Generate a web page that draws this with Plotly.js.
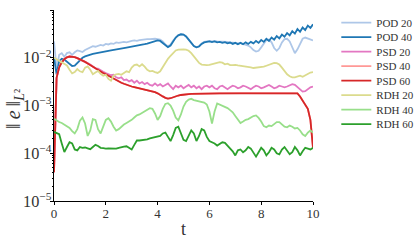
<!DOCTYPE html>
<html>
<head>
<meta charset="utf-8">
<script src="https://cdn.plot.ly/plotly-3.0.1.min.js"></script>
<style>
  html, body { margin: 0; padding: 0; background: #fff; }
  #chart { width: 416px; height: 243px; }
</style>
</head>
<body>
<div id="chart"></div>
<script>
// time axis (shared by all series)
const t = [0,0.1,0.2,0.3,0.4,0.5,0.6,0.7,0.8,0.9,
  1,1.1,1.2,1.3,1.4,1.5,1.6,1.7,1.8,1.9,
  2,2.1,2.2,2.3,2.4,2.5,2.6,2.7,2.8,2.9,
  3,3.1,3.2,3.3,3.4,3.5,3.6,3.7,3.8,3.9,
  4,4.1,4.2,4.3,4.4,4.5,4.6,4.7,4.8,4.9,
  5,5.1,5.2,5.3,5.4,5.5,5.6,5.7,5.8,5.9,
  6,6.1,6.2,6.3,6.4,6.5,6.6,6.7,6.8,6.9,
  7,7.1,7.2,7.3,7.4,7.5,7.6,7.7,7.8,7.9,
  8,8.1,8.2,8.3,8.4,8.5,8.6,8.7,8.8,8.9,
  9,9.1,9.2,9.3,9.4,9.5,9.6,9.7,9.8,9.9,10];

const pod20 = [2.2e-2,6e-3,1.15e-2,1.25e-2,1.05e-2,1.25e-2,1.3e-2,1.15e-2,1.3e-2,1.42e-2,
  1.38e-2,1.32e-2,1.45e-2,1.55e-2,1.6e-2,1.75e-2,1.7e-2,1.8e-2,1.85e-2,1.8e-2,
  1.95e-2,1.9e-2,2.0e-2,1.95e-2,2.1e-2,2.05e-2,2.1e-2,2.15e-2,2.1e-2,2.2e-2,
  2.25e-2,2.3e-2,2.25e-2,2.35e-2,2.4e-2,2.4e-2,2.45e-2,2.45e-2,2.5e-2,2.5e-2,
  2.45e-2,2.4e-2,2.2e-2,1.9e-2,1.75e-2,1.9e-2,2.3e-2,2.7e-2,3.0e-2,3.1e-2,
  3.05e-2,2.8e-2,2.4e-2,2.0e-2,1.75e-2,1.65e-2,1.75e-2,2.0e-2,2.15e-2,2.2e-2,
  2.25e-2,2.2e-2,2.25e-2,2.2e-2,2.2e-2,2.15e-2,2.2e-2,2.15e-2,2.1e-2,2.1e-2,
  2.05e-2,2.0e-2,2.05e-2,1.95e-2,1.9e-2,1.8e-2,1.65e-2,1.45e-2,1.35e-2,1.4e-2,
  1.65e-2,2.0e-2,2.35e-2,2.4e-2,2.1e-2,1.6e-2,1.4e-2,1.6e-2,2.1e-2,2.45e-2,
  2.5e-2,2.2e-2,1.6e-2,1.25e-2,1.5e-2,2.0e-2,2.5e-2,2.65e-2,2.55e-2,2.4e-2,2.3e-2];

const pod40 = [1.0e-2,4.5e-3,8.5e-3,9.5e-3,9.2e-3,8.3e-3,7.3e-3,6.7e-3,6.8e-3,7.8e-3,
  9.0e-3,1.0e-2,1.07e-2,1.12e-2,1.17e-2,1.2e-2,1.23e-2,1.27e-2,1.3e-2,1.33e-2,
  1.36e-2,1.4e-2,1.43e-2,1.47e-2,1.5e-2,1.53e-2,1.56e-2,1.6e-2,1.63e-2,1.67e-2,
  1.7e-2,1.74e-2,1.78e-2,1.82e-2,1.87e-2,1.92e-2,1.98e-2,2.05e-2,2.15e-2,2.25e-2,
  2.3e-2,2.25e-2,2.05e-2,1.8e-2,1.67e-2,1.8e-2,2.2e-2,2.65e-2,2.95e-2,3.1e-2,
  3.05e-2,2.8e-2,2.4e-2,2.0e-2,1.75e-2,1.65e-2,1.72e-2,1.95e-2,2.1e-2,2.15e-2,
  2.2e-2,2.12e-2,2.2e-2,2.1e-2,2.15e-2,2.05e-2,2.12e-2,2.0e-2,2.08e-2,1.95e-2,
  2.05e-2,1.92e-2,2.05e-2,1.92e-2,2.1e-2,1.95e-2,2.15e-2,2.0e-2,2.25e-2,2.05e-2,
  2.35e-2,2.15e-2,2.5e-2,2.25e-2,2.65e-2,2.4e-2,2.85e-2,2.55e-2,3.05e-2,2.75e-2,
  3.3e-2,2.95e-2,3.6e-2,3.2e-2,4.0e-2,3.5e-2,4.3e-2,3.8e-2,4.7e-2,4.2e-2,5.0e-2];

const psd20 = [4e-5,3.8e-3,6.3e-3,8.0e-3,9.3e-3,1.02e-2,1.06e-2,1.06e-2,1.03e-2,9.8e-3,
  9.3e-3,8.8e-3,8.2e-3,7.7e-3,7.2e-3,6.6e-3,6.0e-3,5.9e-3,5.4e-3,5.1e-3,
  4.8e-3,4.5e-3,4.3e-3,4.4e-3,3.9e-3,3.7e-3,3.9e-3,3.4e-3,3.5e-3,3.2e-3,
  3.4e-3,3.0e-3,3.3e-3,2.9e-3,3.1e-3,2.8e-3,3.0e-3,2.7e-3,2.6e-3,2.9e-3,
  2.6e-3,2.8e-3,2.5e-3,2.7e-3,2.9e-3,2.5e-3,2.2e-3,2.6e-3,2.4e-3,2.6e-3,
  2.3e-3,2.5e-3,2.7e-3,2.4e-3,2.6e-3,2.3e-3,2.5e-3,2.2e-3,2.5e-3,2.6e-3,
  2.4e-3,2.6e-3,2.3e-3,2.2e-3,2.5e-3,2.6e-3,2.4e-3,2.2e-3,2.4e-3,2.6e-3,
  2.5e-3,2.3e-3,2.4e-3,2.6e-3,2.5e-3,2.3e-3,2.2e-3,2.4e-3,2.6e-3,2.5e-3,
  2.3e-3,2.4e-3,2.6e-3,2.7e-3,2.5e-3,2.3e-3,2.4e-3,2.6e-3,2.5e-3,2.4e-3,
  2.5e-3,2.7e-3,2.8e-3,2.7e-3,2.4e-3,2.1e-3,1.95e-3,2.0e-3,2.2e-3,2.4e-3,2.5e-3];

const psd40 = [4e-5,3.9e-3,6.4e-3,8.1e-3,9.4e-3,1.03e-2,1.06e-2,1.06e-2,1.03e-2,9.8e-3,
  9.3e-3,8.8e-3,8.2e-3,7.6e-3,7.0e-3,6.5e-3,6.0e-3,5.6e-3,5.2e-3,4.8e-3,
  4.5e-3,4.2e-3,3.9e-3,3.6e-3,3.4e-3,3.2e-3,3.0e-3,2.85e-3,2.7e-3,2.6e-3,
  2.5e-3,2.42e-3,2.35e-3,2.28e-3,2.22e-3,2.16e-3,2.1e-3,2.05e-3,1.98e-3,1.9e-3,
  1.8e-3,1.7e-3,1.55e-3,1.45e-3,1.4e-3,1.42e-3,1.5e-3,1.57e-3,1.62e-3,1.66e-3,
  1.7e-3,1.72e-3,1.73e-3,1.75e-3,1.76e-3,1.77e-3,1.78e-3,1.78e-3,1.79e-3,1.79e-3,
  1.8e-3,1.8e-3,1.8e-3,1.8e-3,1.8e-3,1.8e-3,1.81e-3,1.81e-3,1.81e-3,1.81e-3,
  1.81e-3,1.81e-3,1.81e-3,1.81e-3,1.81e-3,1.81e-3,1.81e-3,1.81e-3,1.81e-3,1.81e-3,
  1.81e-3,1.81e-3,1.82e-3,1.82e-3,1.82e-3,1.82e-3,1.82e-3,1.83e-3,1.83e-3,1.84e-3,
  1.84e-3,1.85e-3,1.85e-3,1.84e-3,1.8e-3,1.55e-3,1.25e-3,1.05e-3,8.5e-4,5e-4,1.3e-4];

const psd60 = [4e-5,3.8e-3,6.3e-3,8.0e-3,9.3e-3,1.02e-2,1.06e-2,1.06e-2,1.03e-2,9.8e-3,
  9.3e-3,8.8e-3,8.2e-3,7.6e-3,7.0e-3,6.5e-3,6.0e-3,5.6e-3,5.2e-3,4.8e-3,
  4.5e-3,4.2e-3,3.9e-3,3.6e-3,3.4e-3,3.2e-3,3.0e-3,2.85e-3,2.7e-3,2.6e-3,
  2.5e-3,2.42e-3,2.35e-3,2.28e-3,2.22e-3,2.16e-3,2.1e-3,2.05e-3,1.98e-3,1.9e-3,
  1.8e-3,1.7e-3,1.55e-3,1.45e-3,1.4e-3,1.42e-3,1.5e-3,1.57e-3,1.62e-3,1.66e-3,
  1.7e-3,1.72e-3,1.73e-3,1.75e-3,1.76e-3,1.77e-3,1.78e-3,1.78e-3,1.79e-3,1.79e-3,
  1.8e-3,1.8e-3,1.8e-3,1.8e-3,1.8e-3,1.8e-3,1.8e-3,1.8e-3,1.8e-3,1.8e-3,
  1.8e-3,1.8e-3,1.8e-3,1.8e-3,1.8e-3,1.8e-3,1.8e-3,1.8e-3,1.8e-3,1.8e-3,
  1.8e-3,1.8e-3,1.81e-3,1.81e-3,1.81e-3,1.81e-3,1.82e-3,1.82e-3,1.83e-3,1.83e-3,
  1.84e-3,1.85e-3,1.85e-3,1.84e-3,1.8e-3,1.55e-3,1.25e-3,1.05e-3,8.5e-4,5e-4,1.3e-4];

const rdh20 = [1.0e-2,9.3e-3,8.8e-3,8.2e-3,7.6e-3,6.9e-3,5.6e-3,4.7e-3,5.0e-3,5.8e-3,
  5.2e-3,5.0e-3,6.2e-3,6.6e-3,5.6e-3,4.5e-3,4.9e-3,5.3e-3,4.6e-3,4.2e-3,
  4.4e-3,3.6e-3,3.3e-3,4.2e-3,4.5e-3,4.6e-3,4.4e-3,4.7e-3,5.2e-3,5.0e-3,
  6.2e-3,7.0e-3,7.2e-3,6.6e-3,7.3e-3,6.5e-3,5.6e-3,5.2e-3,5.3e-3,5.0e-3,
  4.8e-3,5.2e-3,6.5e-3,8.0e-3,9.5e-3,1.1e-2,1.28e-2,1.42e-2,1.48e-2,1.5e-2,
  1.5e-2,1.48e-2,1.4e-2,1.25e-2,1.05e-2,8.8e-3,7.8e-3,7.2e-3,7.0e-3,7.0e-3,
  7.1e-3,7.3e-3,7.6e-3,7.8e-3,8.1e-3,7.9e-3,7.3e-3,7.5e-3,7.0e-3,7.0e-3,
  7.1e-3,6.9e-3,6.8e-3,6.6e-3,6.7e-3,6.5e-3,6.3e-3,6.1e-3,6.2e-3,6.4e-3,
  6.3e-3,6.5e-3,6.8e-3,7.2e-3,7.6e-3,7.8e-3,7.7e-3,7.2e-3,6.2e-3,5.2e-3,
  4.5e-3,4.1e-3,3.9e-3,3.9e-3,4.1e-3,4.2e-3,4.0e-3,4.3e-3,4.6e-3,4.9e-3,5.0e-3];

const rdh40 = [5.3e-4,4.8e-4,4.5e-4,4.3e-4,4.0e-4,3.8e-4,3.4e-4,2.9e-4,2.6e-4,3.2e-4,
  4.8e-4,5.6e-4,4.2e-4,2.3e-4,3.0e-4,5.2e-4,5.0e-4,3.2e-4,2.6e-4,3.6e-4,
  5.0e-4,5.4e-4,4.6e-4,3.6e-4,3.0e-4,3.2e-4,3.6e-4,4.0e-4,4.3e-4,4.6e-4,
  5.0e-4,5.6e-4,6.2e-4,6.5e-4,7.0e-4,7.8e-4,8.4e-4,8.8e-4,8.5e-4,6.8e-4,
  5.0e-4,6.0e-4,8.5e-4,1.08e-3,1.12e-3,1.0e-3,7.8e-4,5.6e-4,4.9e-4,6.5e-4,
  9.5e-4,1.2e-3,1.33e-3,1.38e-3,1.3e-3,1.25e-3,1.22e-3,1.2e-3,1.15e-3,1.05e-3,
  7.5e-4,4.2e-4,7.5e-4,1.1e-3,1.05e-3,1.0e-3,9.5e-4,8.8e-4,8.0e-4,7.2e-4,
  6.0e-4,5.0e-4,4.3e-4,4.6e-4,5.0e-4,5.2e-4,5.6e-4,6.0e-4,6.2e-4,5.5e-4,
  4.6e-4,3.7e-4,3.5e-4,3.8e-4,3.7e-4,4.0e-4,4.5e-4,4.5e-4,4.0e-4,3.6e-4,
  3.5e-4,3.8e-4,3.6e-4,3.3e-4,3.4e-4,3.0e-4,2.5e-4,2.3e-4,2.7e-4,3.0e-4,2.7e-4];

const rdh60 = [2.8e-4,2.6e-4,2.5e-4,1.6e-4,1.06e-4,1.35e-4,1.7e-4,1.6e-4,1.2e-4,1.15e-4,
  1.35e-4,1.3e-4,1.32e-4,1.27e-4,1.22e-4,1.35e-4,1.5e-4,1.42e-4,1.3e-4,1.28e-4,
  1.25e-4,1.27e-4,1.25e-4,1.27e-4,1.25e-4,1.3e-4,1.35e-4,1.38e-4,1.4e-4,1.3e-4,
  1.2e-4,1.5e-4,1.85e-4,1.85e-4,1.87e-4,1.9e-4,1.95e-4,2.05e-4,2.1e-4,2.2e-4,
  2.25e-4,2.3e-4,2.6e-4,2.7e-4,2.2e-4,1.8e-4,2.4e-4,3.4e-4,3.6e-4,2.7e-4,
  1.9e-4,1.8e-4,2.4e-4,3.0e-4,2.6e-4,1.8e-4,2.3e-4,3.2e-4,3.0e-4,2.2e-4,
  1.8e-4,1.7e-4,1.6e-4,1.45e-4,1.55e-4,1.7e-4,1.65e-4,1.45e-4,1.3e-4,1.1e-4,
  9.0e-5,1.15e-4,1.2e-4,1.05e-4,1.15e-4,1.35e-4,1.25e-4,1.0e-4,8.5e-5,1.05e-4,
  1.3e-4,1.15e-4,9.0e-5,1.05e-4,1.3e-4,1.2e-4,1.0e-4,9.5e-5,1.2e-4,1.35e-4,
  1.15e-4,9.5e-5,1.05e-4,1.35e-4,1.15e-4,9.0e-5,1.1e-4,1.3e-4,1.25e-4,1.2e-4,1.3e-4];

const names = ['POD 20','POD 40','PSD 20','PSD 40','PSD 60','RDH 20','RDH 40','RDH 60'];
const colors = ['#aec7e8','#1f77b4','#e377c2','#ff9896','#d62728','#dbdb8d','#98df8a','#2ca02c'];
const series = [pod20, pod40, psd20, psd40, psd60, rdh20, rdh40, rdh60];

const serif = 'Liberation Serif, DejaVu Serif, serif';

// one small legend per trace so the row spacing can follow the original
const legendKey = (i) => i === 0 ? 'legend' : 'legend' + (i + 1);

const traces = series.map((ys, i) => ({
    x: t, y: ys, name: names[i], type: 'scatter', mode: 'lines',
    legend: legendKey(i), showlegend: true,
    line: {color: colors[i], width: 1.8}
}));

const layout = {
    width: 416, height: 243,
    margin: {l: 54, r: 103, t: 10, b: 42, autoexpand: false},
    paper_bgcolor: '#fff', plot_bgcolor: '#fff',
    showlegend: true,
    font: {family: serif, color: '#222', size: 13},
    xaxis: {
        range: [0, 10], dtick: 2, ticks: 'outside', ticklen: 3, tickcolor: '#000',
        showline: true, linecolor: '#000', linewidth: 1,
        showgrid: false, zeroline: false, ticklabelstandoff: -3,
        tickfont: {family: serif, size: 13, color: '#333'}
    },
    yaxis: {
        type: 'log', range: [-5, -1], dtick: 1, exponentformat: 'power',
        ticks: 'outside', ticklen: 3, tickcolor: '#000',
        minor: {ticks: 'outside', ticklen: 1.5, tickcolor: '#000', showgrid: false},
        showline: true, linecolor: '#000', linewidth: 1,
        showgrid: false, zeroline: false, ticklabelstandoff: -4,
        tickfont: {family: serif, size: 13, color: '#333'}
    },
    annotations: [{
        // y axis title
        text: '\u2016\u2009<i>e</i>\u2009\u2016<sub><i>L</i>\u00b2</sub>',
        xref: 'paper', yref: 'paper', x: -0.152, y: 0.48,
        xanchor: 'center', yanchor: 'middle', textangle: -90,
        showarrow: false, font: {family: serif, size: 20, color: '#333'}
    }, {
        // x axis title
        text: 't',
        xref: 'paper', yref: 'paper', x: 0.5, y: -0.145,
        xanchor: 'center', yanchor: 'middle',
        showarrow: false, font: {family: serif, size: 18, color: '#333'}
    }]
};

names.forEach((n, i) => {
    layout[legendKey(i)] = {
        x: 1.09, xanchor: 'left',
        y: 1 - (12.7 + 14.5 * i) / 191, yanchor: 'middle',
        bgcolor: 'rgba(0,0,0,0)', borderwidth: 0,
        font: {family: serif, size: 11, color: '#333'},
        itemwidth: 30
    };
});

Plotly.newPlot('chart', traces, layout, {displayModeBar: false, staticPlot: true});
</script>
</body>
</html>
